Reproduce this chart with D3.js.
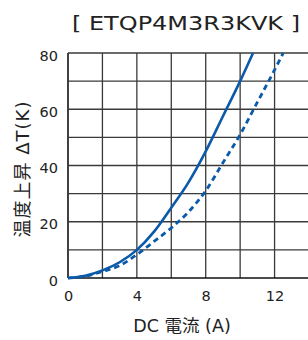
<!DOCTYPE html>
<html>
<head>
<meta charset="utf-8">
<script src="https://cdn.jsdelivr.net/npm/d3@7"></script>
<style>
  body { margin: 0; background: #fff; }
  text { font-family: "DejaVu Sans", "Noto Sans CJK JP", sans-serif; fill: #222; }
</style>
</head>
<body>
<div id="chart-area"></div>
<script>
var title = "[ ETQP4M3R3KVK ]";
var xTicks = [0, 4, 8, 12];
var yTicks = [0, 20, 40, 60, 80];

// current (A) vs temperature rise (K)
var solidI  = [0, 1, 2, 3, 4, 5, 6, 7, 8, 9, 10, 10.75];
var solidT  = [0, 0.8, 2.7, 5.6, 10, 16.5, 25, 34, 45, 57.5, 70, 80];
var dashedI = [0, 1, 2, 3, 4, 5, 6, 7, 8, 9, 10, 11, 12, 12.5];
var dashedT = [0, 0.6, 2.3, 4.4, 8.3, 13, 17.8, 23.5, 31, 41, 51, 62.5, 74, 80];

var margin = { left: 68, top: 53, bottom: 62 },
    W = 308, H = 340;
var width = 309 - margin.left,
    height = H - margin.top - margin.bottom;

var svg = d3.select("#chart-area")
    .append("svg")
        .attr("width", W)
        .attr("height", H);

var g = svg.append("g")
    .attr("transform", "translate(" + margin.left + "," + margin.top + ")");

var x = d3.scaleLinear().domain([0, 14]).range([0, width]);
var y = d3.scaleLinear().domain([0, 80]).range([height, 0]);

// grid
g.selectAll(".vgrid")
    .data(d3.range(0, 15, 2))
    .enter().append("line")
    .attr("x1", function(d){ return x(d); })
    .attr("x2", function(d){ return x(d); })
    .attr("y1", 0).attr("y2", height)
    .attr("stroke", function(d){ return d == 0 ? "#111" : "#3a3a3a"; })
    .attr("stroke-width", function(d){ return d == 0 ? 1.6 : 1.3; });

g.selectAll(".hgrid")
    .data(d3.range(0, 81, 10))
    .enter().append("line")
    .attr("x1", 0).attr("x2", width)
    .attr("y1", function(d){ return y(d); })
    .attr("y2", function(d){ return y(d); })
    .attr("stroke", function(d){ return d == 0 ? "#111" : "#3a3a3a"; })
    .attr("stroke-width", function(d){ return d == 0 ? 1.6 : 1.3; });

// axes (labels only)
var xAxis = d3.axisBottom(x).tickValues(xTicks).tickSize(0).tickPadding(13);
var yAxis = d3.axisLeft(y).tickValues(yTicks).tickSize(0).tickPadding(10);

g.append("g")
    .attr("transform", "translate(0," + height + ")")
    .call(xAxis)
    .call(function(a){ a.select(".domain").remove(); })
    .selectAll("text").attr("font-size", 14.5).attr("fill", "#222");

g.append("g")
    .attr("transform", "translate(0,2.5)")
    .call(yAxis)
    .call(function(a){ a.select(".domain").remove(); })
    .selectAll("text").attr("font-size", 14.5).attr("fill", "#222");

// curves
var line = d3.line()
    .x(function(d){ return x(d[0]); })
    .y(function(d){ return y(d[1]); })
    .curve(d3.curveMonotoneX);

g.append("path")
    .datum(d3.zip(solidI, solidT))
    .attr("d", line)
    .attr("fill", "none")
    .attr("stroke", "#0b5aaa")
    .attr("stroke-width", 2.6);

g.append("path")
    .datum(d3.zip(dashedI, dashedT))
    .attr("d", line)
    .attr("fill", "none")
    .attr("stroke", "#0b5aaa")
    .attr("stroke-width", 2.8)
    .attr("stroke-dasharray", "5.5,4");

// titles
svg.append("text")
    .attr("x", 186).attr("y", 29.5)
    .attr("text-anchor", "middle")
    .attr("font-size", 19)
    .attr("textLength", 228)
    .attr("lengthAdjust", "spacingAndGlyphs")
    .text(title);

svg.append("text")
    .attr("x", 182).attr("y", 332)
    .attr("text-anchor", "middle")
    .attr("font-size", 17.5)
    .text("DC 電流 (A)");

svg.append("text")
    .attr("transform", "translate(29,169) rotate(-90)")
    .attr("text-anchor", "middle")
    .attr("font-size", 18)
    .attr("letter-spacing", 1)
    .text("温度上昇 ΔT(K)");
</script>
</body>
</html>
